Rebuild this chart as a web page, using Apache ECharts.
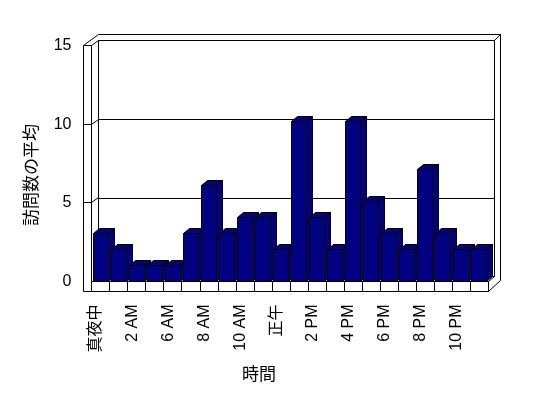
<!DOCTYPE html>
<html>
<head>
<meta charset="utf-8">
<script src="https://cdn.jsdelivr.net/npm/echarts@6/dist/echarts.min.js"></script>
<style>
html, body { margin: 0; padding: 0; background: #fff; }
#main { width: 548px; height: 398px; }
</style>
</head>
<body>
<div id="main"></div>
<script>
'use strict'
// hourly average visits (22 hours, some early hours have no data)
var hours = ['真夜中', '1 AM', '2 AM', '5 AM', '6 AM', '7 AM', '8 AM', '9 AM', '10 AM', '11 AM',
             '正午', '1 PM', '2 PM', '3 PM', '4 PM', '5 PM', '6 PM', '7 PM', '8 PM', '9 PM', '10 PM', '11 PM'];
var visits = [3, 2, 1, 1, 1, 3, 6, 3, 4, 4, 2, 10, 4, 2, 10, 5, 3, 2, 7, 3, 2, 2];
var yMax = 15;
var yStep = 5;
var xTitle = '時間';
var yTitle = '訪問数の平均';

var FONT = "'Liberation Sans', 'Noto Sans CJK JP', sans-serif";
var NAVY = '#000080';
// depth offset of the 3d bars
var DX = 6, DY = -5;
var BAR_W = 15;

function crisp(v) {
    return Math.round(v - 0.5) + 0.5;
}

function renderBar(params, api) {
    var base = api.coord([api.value(0), 0]);
    var top = api.coord([api.value(0), api.value(1)]);
    var x0 = Math.floor(base[0] - BAR_W / 2) + 0.5;
    var x1 = x0 + BAR_W;
    var y0 = crisp(base[1]);
    var y1 = crisp(top[1]);
    var style = { fill: NAVY, stroke: '#000', lineWidth: 1 };
    return {
        type: 'group',
        children: [
            { type: 'polygon', shape: { points: [[x1, y1], [x1 + DX, y1 + DY], [x1 + DX, y0 + DY], [x1, y0]] }, style: style },
            { type: 'polygon', shape: { points: [[x0, y1], [x0 + DX, y1 + DY], [x1 + DX, y1 + DY], [x1, y1]] }, style: style },
            { type: 'rect', shape: { x: x0, y: y1, width: BAR_W, height: y0 - y1 }, style: style }
        ]
    };
}

var hiddenAxis = { show: false };

var option = {
    backgroundColor: '#fff',
    animation: false,
    textStyle: { fontFamily: FONT },
    grid: [
        // 0: bars
        { left: 92, top: 41.5, width: 396, height: 240, outerBoundsMode: 'none' },
        // 1: back wall
        { left: 98.5, top: 40.5, width: 396, height: 236, show: true, borderColor: '#000', borderWidth: 1,
          backgroundColor: 'transparent', outerBoundsMode: 'none' },
        // 2: front scale on left wall
        { left: 83.5, top: 45.5, width: 8, height: 236, outerBoundsMode: 'none' },
        // 3: floor front face
        { left: 91.5, top: 281.5, width: 397, height: 10, show: true, borderColor: '#000', borderWidth: 1,
          backgroundColor: 'transparent', outerBoundsMode: 'none' },
        // 4: category labels
        { left: 87, top: 281.5, width: 397, height: 10, outerBoundsMode: 'none' }
    ],
    xAxis: [
        { type: 'category', gridIndex: 0, data: hours, show: false },
        { type: 'category', gridIndex: 1, data: hours, show: false },
        { type: 'category', gridIndex: 2, data: ['a'], show: false },
        {
            type: 'category', gridIndex: 3, data: hours, position: 'bottom',
            axisLine: { show: false },
            axisTick: { show: true, inside: true, length: 10, interval: 0, lineStyle: { color: '#000', width: 1 } },
            axisLabel: { show: false },
            splitLine: { show: false }
        },
        {
            type: 'category', gridIndex: 4, data: hours, position: 'bottom',
            axisLine: { show: false },
            axisTick: { show: false },
            axisLabel: { show: true, interval: 1, rotate: 90, margin: 13, fontSize: 16, color: '#000', fontFamily: FONT },
            splitLine: { show: false }
        }
    ],
    yAxis: [
        { type: 'value', gridIndex: 0, min: 0, max: yMax, show: false },
        {
            type: 'value', gridIndex: 1, min: 0, max: yMax, interval: yStep,
            axisLine: { show: false }, axisTick: { show: false }, axisLabel: { show: false },
            splitLine: { show: true, lineStyle: { color: '#000', width: 1 } }
        },
        {
            type: 'value', gridIndex: 2, min: 0, max: yMax, interval: yStep,
            axisLine: { show: false }, axisTick: { show: false },
            axisLabel: { show: true, margin: 12, fontSize: 16, color: '#000', fontFamily: FONT },
            splitLine: { show: false }
        },
        { type: 'value', gridIndex: 3, show: false },
        { type: 'value', gridIndex: 4, show: false }
    ],
    series: [
        {
            name: yTitle,
            type: 'custom',
            xAxisIndex: 0,
            yAxisIndex: 0,
            z: 10,
            renderItem: renderBar,
            encode: { x: 0, y: 1 },
            data: visits.map(function (v, i) { return [i, v]; })
        }
    ]
};

var chart = echarts.init(document.getElementById('main'));
chart.setOption(option);

// frame of the 3d box (walls and floor), tied to the axis scales
function yFront(v) { return crisp(chart.convertToPixel({ yAxisIndex: 2 }, v)); }
function yBack(v) { return crisp(chart.convertToPixel({ yAxisIndex: 1 }, v)); }

var wallOut = 83.5, wallIn = 91.5, backL = 98.5, backR = 494.5, backOut = 500.5, floorR = 488.5;
var topOut = 34.5, floorBot = 291.5;
var fTop = yFront(yMax), fBase = yFront(0), bTop = yBack(yMax), bBase = yBack(0);

var lineStyle = { stroke: '#000', lineWidth: 1, fill: null };
function pl(points) {
    return { type: 'polyline', z: 5, shape: { points: points }, style: lineStyle, silent: true };
}

var frame = [
    pl([[wallOut, fTop], [wallOut, floorBot], [wallIn, floorBot]]),
    pl([[wallIn, fTop], [wallIn, fBase]]),
    pl([[wallOut, fTop], [wallIn, fTop]]),
    pl([[wallOut, fTop], [backL, topOut], [backOut, topOut], [backOut, bBase + 4]]),
    pl([[wallIn, fTop], [backL, bTop]]),
    pl([[backR, bTop], [backOut, topOut]]),
    pl([[floorR, floorBot], [backOut, bBase + 4]]),
    pl([[floorR, fBase], [backR, bBase]])
];
for (var v = yStep; v < yMax; v += yStep) {
    frame.push(pl([[wallOut, yFront(v)], [wallIn, yFront(v)], [backL, yBack(v)]]));
}

frame.push({
    type: 'text', z: 5, x: 259, y: 375,
    style: { text: xTitle, fill: '#000', font: '17px ' + FONT, textAlign: 'center', textVerticalAlign: 'middle' }
});
frame.push({
    type: 'text', z: 5, x: 32, y: 175, rotation: Math.PI / 2,
    style: { text: yTitle, fill: '#000', font: '17px ' + FONT, textAlign: 'center', textVerticalAlign: 'middle' }
});

chart.setOption({ graphic: frame });
</script>
</body>
</html>
